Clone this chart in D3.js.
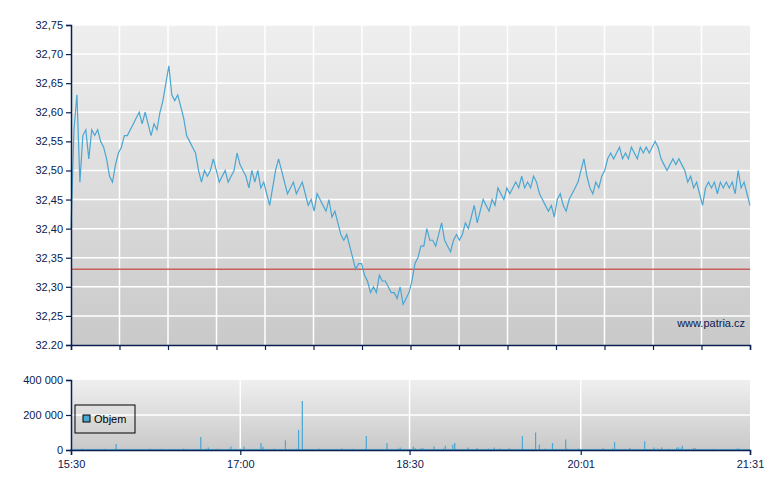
<!DOCTYPE html>
<html><head><meta charset="utf-8">
<script src="https://cdn.jsdelivr.net/npm/d3@7"></script>
<style>
body{margin:0;background:#fff;}
text{font-family:"Liberation Sans",Arial,sans-serif;font-size:11px;fill:#0a2050;}
</style></head>
<body><div id="chart"></div>
<script>
const width = 780, height = 490;

// price samples, evenly spaced over the session (15:30 - 21:31)
const prices = [
 32.40,32.57,32.63,32.48,32.56,32.57,32.52,32.57,32.56,32.57,32.55,32.54,32.52,32.49,32.48,32.51,32.53,
 32.54,32.56,32.56,32.57,32.58,32.59,32.60,32.58,32.60,32.58,32.56,32.58,32.57,32.60,32.62,32.65,32.68,
 32.63,32.62,32.63,32.61,32.59,32.56,32.55,32.54,32.53,32.50,32.48,32.50,32.49,32.50,32.52,32.50,32.48,
 32.49,32.50,32.48,32.49,32.50,32.53,32.51,32.50,32.49,32.47,32.50,32.48,32.50,32.47,32.48,32.46,32.44,
 32.47,32.50,32.52,32.50,32.48,32.46,32.47,32.48,32.46,32.47,32.48,32.46,32.44,32.45,32.43,32.46,32.45,
 32.44,32.43,32.45,32.42,32.43,32.41,32.39,32.38,32.39,32.37,32.35,32.33,32.34,32.34,32.32,32.31,32.29,
 32.30,32.29,32.32,32.31,32.31,32.30,32.29,32.29,32.28,32.30,32.27,32.28,32.29,32.31,32.34,32.35,32.37,
 32.37,32.40,32.38,32.38,32.37,32.39,32.41,32.38,32.37,32.36,32.38,32.39,32.38,32.39,32.41,32.40,32.42,
 32.44,32.41,32.43,32.45,32.44,32.43,32.45,32.44,32.47,32.46,32.45,32.47,32.46,32.47,32.48,32.47,32.49,
 32.47,32.48,32.47,32.49,32.48,32.46,32.45,32.44,32.43,32.44,32.42,32.45,32.46,32.44,32.43,32.45,32.46,
 32.47,32.48,32.50,32.52,32.49,32.47,32.46,32.48,32.47,32.49,32.50,32.52,32.53,32.52,32.53,32.54,32.52,
 32.53,32.52,32.54,32.53,32.52,32.54,32.53,32.54,32.53,32.54,32.55,32.54,32.52,32.51,32.50,32.51,32.52,
 32.51,32.52,32.51,32.50,32.48,32.49,32.47,32.48,32.46,32.44,32.47,32.48,32.47,32.48,32.46,32.48,32.47,
 32.48,32.47,32.48,32.46,32.50,32.47,32.48,32.46,32.44
];
const sessionMinutes = 361;
const refPrice = 32.33;

// volume spikes [minute, volume]
const spikes = [
 [24,35000],[69,75000],[73,15000],[85,20000],[92,20000],[101,40000],[102,18000],[114,55000],
 [121,115000],[123,280000],[157,80000],[168,40000],[175,15000],[182,20000],[183,10000],[187,12000],
 [193,20000],[199,25000],[203,30000],[204,40000],[211,15000],[216,12000],[225,15000],[233,10000],
 [240,80000],[247,100000],[249,30000],[256,40000],[263,60000],[283,10000],[289,45000],[297,12000],
 [305,50000],[310,15000],[314,15000],[322,15000],[323,15000],[325,25000],[331,12000],[332,10000],
 [347,5000],[355,8000]
];
// small background volumes, one every 6 minutes
const smallVols = [
 6000,8000,5000,7000,9000,6000,5000,8000,7000,6000,9000,5000,7000,8000,6000,7000,5000,9000,8000,6000,
 7000,5000,8000,6000,9000,7000,5000,6000,8000,7000,6000,9000,5000,8000,7000,6000,5000,8000,9000,6000,
 7000,5000,8000,6000,7000,9000,5000,6000,8000,7000,6000,5000,9000,7000,8000,6000,5000,7000,6000,8000,5000
];

const priceTicks = [32.20,32.25,32.30,32.35,32.40,32.45,32.50,32.55,32.60,32.65,32.70,32.75];
const timeLabels = [[0,"15:30"],[90,"17:00"],[180,"18:30"],[271,"20:01"],[361,"21:31"]];
const volTicks = [0,200000,400000];

const m = {left:71, right:750, top:25, bottom:345, vTop:380, vBottom:450};

const svg = d3.select("#chart").append("svg").attr("width",width).attr("height",height);

const x = d3.scaleLinear().domain([0,sessionMinutes]).range([m.left,m.right]);
const y = d3.scaleLinear().domain([32.20,32.75]).range([m.bottom,m.top]);
const yv = d3.scaleLinear().domain([0,400000]).range([m.vBottom,m.vTop]);

const defs = svg.append("defs");
const grad = defs.append("linearGradient").attr("id","bg").attr("x1",0).attr("y1",0).attr("x2",0).attr("y2",1);
grad.append("stop").attr("offset","0%").attr("stop-color","#efefef");
grad.append("stop").attr("offset","100%").attr("stop-color","#c9c9c9");

// main panel
svg.append("rect").attr("x",m.left).attr("y",m.top).attr("width",m.right-m.left).attr("height",m.bottom-m.top).attr("fill","url(#bg)");
const gridTimes = d3.range(15).map(i => i*sessionMinutes/14);
svg.selectAll("line.vg").data(gridTimes.slice(1,-1)).enter().append("line")
   .attr("x1",d=>x(d)).attr("x2",d=>x(d)).attr("y1",m.top).attr("y2",m.bottom)
   .attr("stroke","#fff").attr("stroke-width",1.5);
svg.selectAll("line.hg").data(priceTicks.slice(1)).enter().append("line")
   .attr("x1",m.left).attr("x2",m.right).attr("y1",d=>y(d)).attr("y2",d=>y(d))
   .attr("stroke","#fff").attr("stroke-width",1.5);

svg.append("line").attr("x1",m.left).attr("x2",m.right).attr("y1",y(refPrice)).attr("y2",y(refPrice))
   .attr("stroke","#c8605a").attr("stroke-width",1.5);

const step = sessionMinutes/(prices.length-1);
svg.append("path").datum(prices)
   .attr("d", d3.line().x((d,i)=>x(i*step)).y(d=>y(d)))
   .attr("fill","none").attr("stroke","#4aa6d2").attr("stroke-width",1.2);

svg.append("text").attr("x",m.right-5).attr("y",m.bottom-18).attr("text-anchor","end")
   .style("fill","#0a2050").text("www.patria.cz");

const yAxis = d3.axisLeft(y).tickValues(priceTicks).tickSize(5)
   .tickFormat(d => d === 32.20 ? "32.20" : d3.format(".2f")(d).replace(".",","));
const ga = svg.append("g").attr("transform",`translate(${m.left},0)`).call(yAxis);
const xAxisTop = d3.axisBottom(x).tickValues(gridTimes).tickSize(5).tickFormat("");
const gb = svg.append("g").attr("transform",`translate(0,${m.bottom})`).call(xAxisTop);

// volume panel
svg.append("rect").attr("x",m.left).attr("y",m.vTop).attr("width",m.right-m.left).attr("height",m.vBottom-m.vTop).attr("fill","url(#bg)");
svg.selectAll("line.vvg").data(timeLabels.slice(1,-1)).enter().append("line")
   .attr("x1",d=>x(d[0])).attr("x2",d=>x(d[0])).attr("y1",m.vTop).attr("y2",m.vBottom)
   .attr("stroke","#fff").attr("stroke-width",1.5);
svg.append("line").attr("x1",m.left).attr("x2",m.right).attr("y1",yv(200000)).attr("y2",yv(200000))
   .attr("stroke","#fff").attr("stroke-width",1.5);

svg.selectAll("line.sv").data(smallVols).enter().append("line")
   .attr("x1",(d,i)=>x(i*6)).attr("x2",(d,i)=>x(i*6)).attr("y1",yv(0)).attr("y2",d=>yv(d))
   .attr("stroke","#4aa6d2").attr("stroke-width",1);
svg.append("rect").attr("x",m.left).attr("y",yv(6000)).attr("width",m.right-m.left).attr("height",yv(0)-yv(6000)).attr("fill","#4aa6d2").attr("opacity",0.8);
svg.selectAll("line.vol").data(spikes).enter().append("line")
   .attr("x1",d=>x(d[0])).attr("x2",d=>x(d[0])).attr("y1",yv(0)).attr("y2",d=>yv(d[1]))
   .attr("stroke","#4aa6d2").attr("stroke-width",1.2);

const vAxis = d3.axisLeft(yv).tickValues(volTicks).tickSize(5)
   .tickFormat(d => d3.format(",")(d).replace(/,/g," "));
const gc = svg.append("g").attr("transform",`translate(${m.left},0)`).call(vAxis);
const xAxis = d3.axisBottom(x).tickValues(timeLabels.map(d=>d[0])).tickSize(5)
   .tickFormat((d,i)=>timeLabels[i][1]);
const gd = svg.append("g").attr("transform",`translate(0,${m.vBottom})`).call(xAxis);

[ga,gb,gc,gd].forEach(g => {
   g.select(".domain").attr("stroke","#0a2050").attr("stroke-width",1.5);
   g.selectAll(".tick line").attr("stroke","#0a2050").attr("stroke-width",1.2);
   g.selectAll(".tick text").style("font-family","Liberation Sans, Arial, sans-serif").style("font-size","11px").style("fill","#0a2050");
});
gd.selectAll(".tick text").attr("dy","0.9em");

// legend
const lg = svg.append("g").attr("transform","translate(75,405)");
lg.append("rect").attr("width",60).attr("height",28).attr("fill","none").attr("stroke","#000");
lg.append("rect").attr("x",8).attr("y",10).attr("width",7).attr("height",7).attr("fill","#4aa6d2").attr("stroke","#000");
lg.append("text").attr("x",19).attr("y",18).style("fill","#000").text("Objem");
</script></body></html>
